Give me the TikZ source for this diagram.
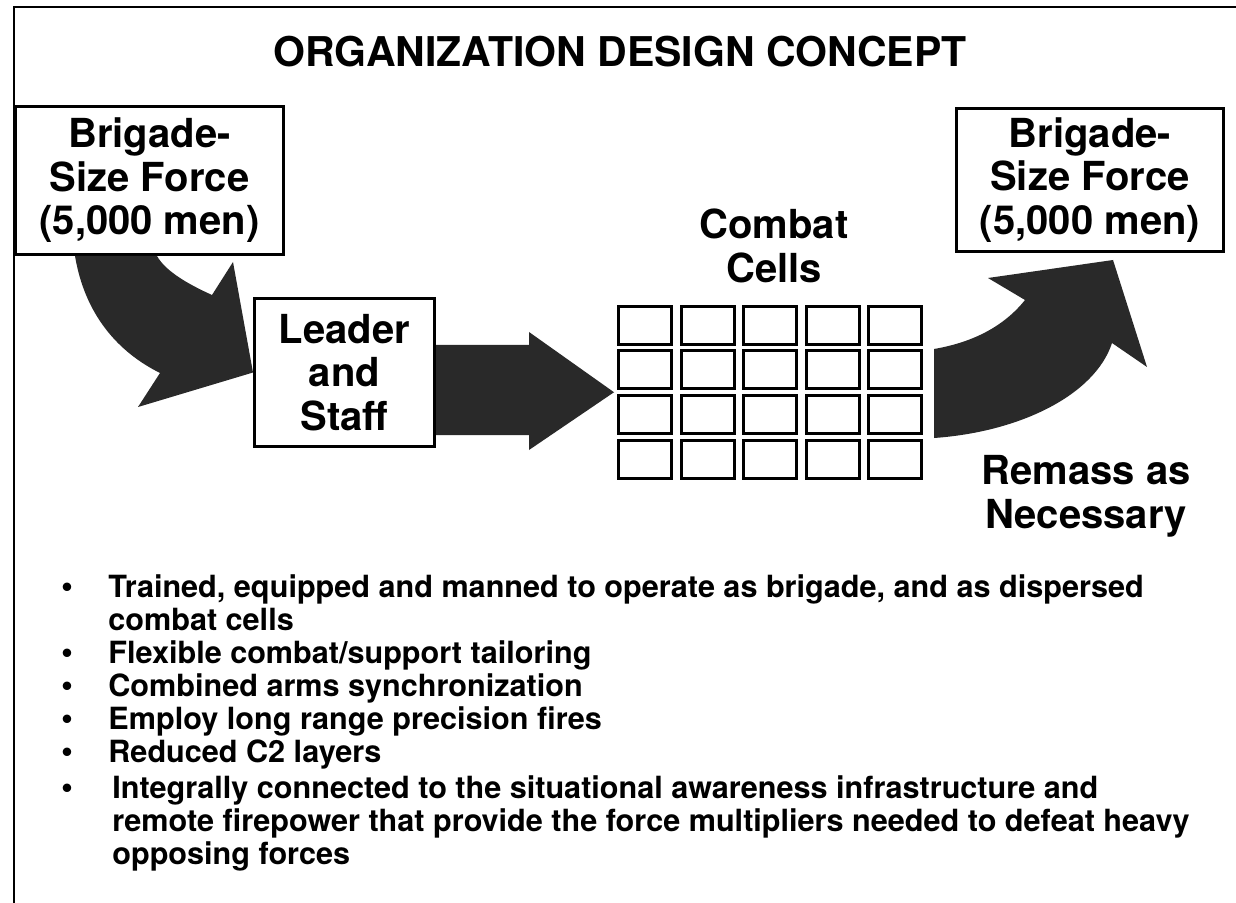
\documentclass[tikz,border=0pt]{standalone}
\usepackage{fontspec}
\setmainfont{TeX Gyre Heros}
\usetikzlibrary{calc}
\begin{document}
\begin{tikzpicture}[x=0.5pt,y=-0.5pt,
  box/.style={draw, line width=1.5pt, inner sep=0pt, align=center,
    font=\bfseries\fontsize{20pt}{21.75pt}\selectfont},
  bigtxt/.style={inner sep=0pt, align=center,
    font=\bfseries\fontsize{20pt}{21.75pt}\selectfont},
  cell/.style={draw, line width=1.5pt, minimum width=26.5pt, minimum height=19pt, inner sep=0pt},
  blk/.style={fill=black!84, draw=none},
  bul/.style={inner sep=0pt, anchor=base west, font=\bfseries\fontsize{15.3pt}{16.5pt}\selectfont},
  dot/.style={inner sep=0pt, anchor=base, font=\bfseries\fontsize{17pt}{16.5pt}\selectfont}]
\fill[white] (0,0) rectangle (1236,903);
\useasboundingbox (0,0) rectangle (1236,903);
% frame
\draw[line width=1.1pt] (14,903) -- (14,7) -- (1236,7);
% title
\node[inner sep=0pt, anchor=base, font=\bfseries\fontsize{20.5pt}{24pt}\selectfont] (title) at (620,67) {ORGANIZATION DESIGN CONCEPT};
% boxes
\node[box, minimum width=134pt, minimum height=74pt] (lbox) at (149.5,180.5) {Brigade-\\Size Force\\(5,000 men)};
\node[box, minimum width=133.5pt, minimum height=71.5pt] (rbox) at (1090,180) {Brigade-\\Size Force\\(5,000 men)};
\node[box, minimum width=90pt, minimum height=74pt] (leader) at (344.5,372.5) {Leader\\and\\Staff};
\node[bigtxt, anchor=south] (cc) at (774,283) {Combat\\Cells};
\node[bigtxt, anchor=north] (rem) at (1086,455) {Remass as\\Necessary};
% grid of combat cells
\foreach \r in {1,...,4}{
  \foreach \c in {1,...,5}{
    \node[cell] (c-\r-\c) at ({645+62.5*(\c-1)},{325.5+44.5*(\r-1)}) {};
  }
}
% left curved arrow
\coordinate (la1) at ($(lbox.south west)+(61,0)$);
\coordinate (la2) at ($(lbox.south west)+(143,0)$);
\fill[blk] (la1) .. controls (85,315) and (118,352) .. (160,373) -- (138,407) -- (leader.west)
  -- (233,262) -- (212,295) .. controls (190,285) and (166,272) .. (la2) -- cycle;
% middle straight arrow
\coordinate (mtip) at ($(c-2-1.south west)!0.5!(c-3-1.north west)+(-3,0)$);
\fill[blk] (leader.east |- 0,345) -- (529,345) -- (529,332) -- (mtip) -- (529,450) -- (529,435)
  -- (leader.east |- 0,435) -- cycle;
% right curved arrow
\coordinate (rtip) at ($(rbox.south west)+(158,7)$);
\coordinate (ra1) at ($(c-2-5.east)+(11,-21)$);
\coordinate (ra2) at ($(c-4-5.east)+(11,-21)$);
\fill[blk] (ra1) .. controls (975,342) and (1005,325) .. (1025,300) -- (988,278) -- (rtip)
  -- (1147,367) -- (1112,343) .. controls (1095,395) and (1020,432) .. (ra2) -- cycle;
% bullets
\node[dot] (d1) at (67,597) {\textbullet};
\node[dot] (d2) at (67,663) {\textbullet};
\node[dot] (d3) at (67,696) {\textbullet};
\node[dot] (d4) at (67,729) {\textbullet};
\node[dot] (d5) at (67,762) {\textbullet};
\node[dot] (d6) at (67,798) {\textbullet};
\node[bul] (t1) at (108,597) {Trained, equipped and manned to operate as brigade, and as dispersed};
\node[bul] (t1b) at (108,630) {combat cells};
\node[bul] (t2) at (108,663) {Flexible combat/support tailoring};
\node[bul] (t3) at (108,696) {Combined arms synchronization};
\node[bul] (t4) at (108,729) {Employ long range precision fires};
\node[bul] (t5) at (108,762) {Reduced C2 layers};
\node[bul] (t6) at (112,798) {Integrally connected to the situational awareness infrastructure and};
\node[bul] (t6b) at (112,831) {remote firepower that provide the force multipliers needed to defeat heavy};
\node[bul] (t6c) at (112,864) {opposing forces};
\end{tikzpicture}
\end{document}
